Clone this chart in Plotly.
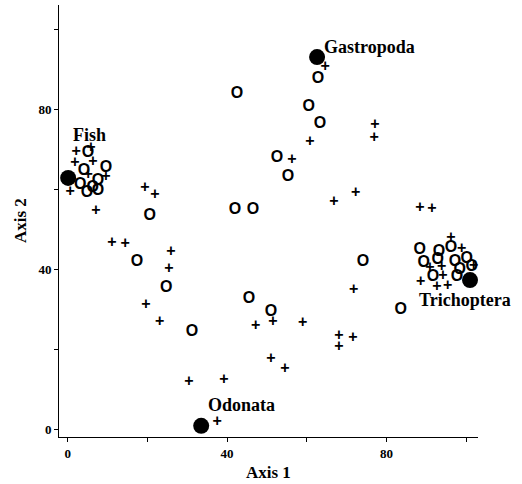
import plotly.graph_objects as go

# Open-circle ("O") samples
o_x = [42.5, 62.8, 60.5, 63.3, 52.5, 55.3, 42.0, 46.5, 74.1, 45.5, 51.0, 83.6,
       20.6, 17.4, 24.7, 31.2,
       5.1, 4.1, 9.6, 3.1, 7.6, 4.8, 7.6, 6.3,
       88.4, 93.2, 96.2, 89.4, 92.9, 97.2, 100.2, 101.4, 98.4, 91.7, 97.7]
o_y = [83.8, 87.6, 80.6, 76.3, 67.8, 63.1, 54.8, 54.8, 41.8, 32.6, 29.3, 29.8,
       53.3, 41.8, 35.3, 24.3,
       69.1, 64.6, 65.3, 61.1, 62.1, 59.1, 59.6, 60.3,
       44.8, 44.3, 45.3, 41.6, 42.3, 41.8, 42.6, 40.6, 39.8, 38.1, 38.1]

# Plus ("+") samples
p_x = [64.6, 60.8, 56.3, 77.1, 76.9, 72.3, 66.8, 88.4, 91.4, 71.8, 59.0, 51.5,
       47.2, 68.1, 68.1, 71.6, 51.0, 54.5, 30.4, 39.2, 37.5, 11.1, 14.4, 25.9,
       25.4, 19.6, 23.1, 19.4, 21.9,
       2.1, 5.8, 1.8, 6.3, 5.1, 9.6, 0.6, 7.1,
       96.2, 98.9, 90.9, 93.9, 94.2, 88.6, 92.7, 95.4, 101.9]
p_y = [90.6, 71.8, 67.3, 76.1, 72.8, 59.1, 56.8, 55.3, 55.1, 34.8, 26.6, 26.8,
       25.8, 23.3, 20.6, 22.8, 17.6, 15.1, 11.8, 12.3, 1.8, 46.6, 46.3, 44.3,
       40.1, 31.1, 26.8, 60.3, 58.6,
       69.3, 70.3, 66.6, 66.8, 63.6, 63.1, 59.3, 54.6,
       47.8, 45.1, 40.3, 40.6, 38.3, 36.8, 35.6, 35.8, 40.8]

# Group centroids (filled circles) and their labels
g_names = ["Fish", "Gastropoda", "Odonata", "Trichoptera"]
g_x = [0.1, 62.6, 33.5, 101.0]
g_y = [62.8, 93.0, 0.9, 37.3]
lab_x = [5.4, 75.7, 43.5, 99.8]
lab_y = [73.6, 95.6, 6.1, 32.3]

tick_vals = [0, 20, 40, 60, 80, 100]
tick_text = ["0", "", "40", "", "80", ""]

sans = dict(family="Liberation Sans", size=16, color="black", weight="bold")
serif = "Liberation Serif"
title_font = dict(family=serif, size=17, color="black", weight="bold")

fig = go.Figure()
fig.add_trace(go.Scatter(x=o_x, y=o_y, mode="text", text=["O"] * len(o_x),
                         textfont=sans, cliponaxis=False, showlegend=False))
fig.add_trace(go.Scatter(x=p_x, y=p_y, mode="text", text=["+"] * len(p_x),
                         textfont=sans, cliponaxis=False, showlegend=False))
fig.add_trace(go.Scatter(x=g_x, y=g_y, mode="markers",
                         marker=dict(size=16, color="black"),
                         cliponaxis=False, showlegend=False))

for name, lx, ly in zip(g_names, lab_x, lab_y):
    fig.add_annotation(x=lx, y=ly, text=name, showarrow=False,
                       font=dict(family=serif, size=18, color="black", weight="bold"))

# Axis titles
fig.add_annotation(xref="paper", yref="paper", x=0.5, y=-0.083, text="Axis 1",
                   showarrow=False, font=title_font, yanchor="middle")
fig.add_annotation(xref="paper", yref="paper", x=-0.093, y=0.5, text="Axis 2",
                   showarrow=False, font=title_font, textangle=-90, xanchor="center")

axis_common = dict(
    showline=True, linecolor="black", linewidth=1,
    ticks="outside", ticklen=4, tickwidth=1, tickcolor="black",
    tickvals=tick_vals, ticktext=tick_text,
    showgrid=False, zeroline=False, automargin=False,
    tickfont=dict(family=serif, size=13, color="black", weight="bold"),
)
fig.update_xaxes(range=[-2.2, 103.0], **axis_common)
fig.update_yaxes(range=[-1.9, 106.0], **axis_common)

fig.update_layout(
    width=522, height=484,
    margin=dict(l=59, r=44, t=5, b=47),
    plot_bgcolor="white", paper_bgcolor="white",
)
fig.write_html("out.html", config={"displayModeBar": False},
               post_script="document.body.style.margin='0';document.body.style.padding='0';")
